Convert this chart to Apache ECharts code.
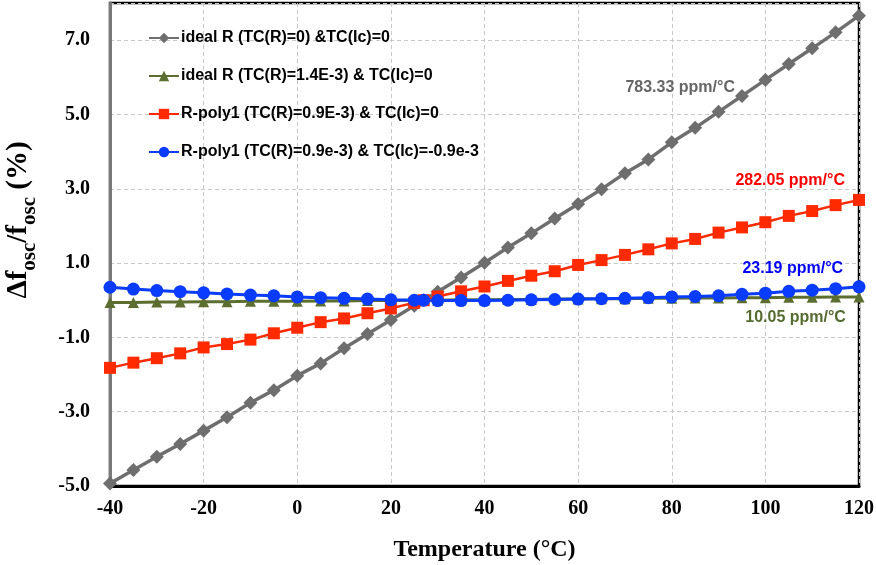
<!DOCTYPE html>
<html>
<head>
<meta charset="utf-8">
<script src="https://cdn.jsdelivr.net/npm/echarts@6/dist/echarts.min.js"></script>
<style>
  html, body { margin: 0; padding: 0; background: #fff; }
  #chart { width: 876px; height: 565px; }
</style>
</head>
<body>
<div id="chart"></div>
<script>
// Temperature sweep (°C); 27 °C is the reference point
const temperatures = [-40, -35, -30, -25, -20, -15, -10, -5, 0, 5, 10, 15, 20, 25, 27,
  30, 35, 40, 45, 50, 55, 60, 65, 70, 75, 80, 85, 90, 95, 100, 105, 110, 115, 120];

// Relative oscillation frequency drift (%)
const idealR0 = [-4.93, -4.57, -4.21, -3.87, -3.51, -3.15, -2.76, -2.42, -2.03, -1.70, -1.29, -0.91, -0.53, -0.15, 0.00,
  0.23, 0.61, 1.01, 1.42, 1.80, 2.20, 2.59, 2.99, 3.42, 3.79, 4.25, 4.64, 5.07, 5.50, 5.93, 6.36, 6.78, 7.21, 7.66];
const idealR14 = [-0.06, -0.06, -0.05, -0.05, -0.04, -0.04, -0.03, -0.03, -0.03, -0.02, -0.02, -0.01, -0.01, 0.00, 0.00,
  0.00, 0.01, 0.01, 0.02, 0.02, 0.03, 0.03, 0.04, 0.04, 0.05, 0.05, 0.06, 0.06, 0.07, 0.07, 0.08, 0.08, 0.09, 0.09];
const rPolyIc0 = [-1.82, -1.68, -1.56, -1.43, -1.27, -1.18, -1.06, -0.89, -0.74, -0.59, -0.49, -0.35, -0.22, -0.07, 0.00,
  0.10, 0.24, 0.37, 0.52, 0.66, 0.78, 0.95, 1.08, 1.22, 1.37, 1.53, 1.65, 1.82, 1.96, 2.10, 2.27, 2.40, 2.56, 2.70];
const rPolyIcNeg = [0.35, 0.30, 0.26, 0.23, 0.20, 0.17, 0.14, 0.12, 0.09, 0.07, 0.05, 0.03, 0.01, 0.00, 0.00,
  -0.01, -0.01, -0.01, 0.00, 0.01, 0.02, 0.03, 0.04, 0.05, 0.07, 0.09, 0.10, 0.12, 0.16, 0.19, 0.24, 0.27, 0.31, 0.36];

const seriesNames = [
  'ideal R (TC(R)=0) &TC(Ic)=0',
  'ideal R (TC(R)=1.4E-3) & TC(Ic)=0',
  'R-poly1 (TC(R)=0.9E-3) & TC(Ic)=0',
  'R-poly1 (TC(R)=0.9e-3) & TC(Ic)=-0.9e-3'
];
const slopeLabels = ['783.33 ppm/°C', '10.05 ppm/°C', '282.05 ppm/°C', '23.19 ppm/°C'];
// Where each slope label's right end sits, in axis units [°C, %]
const slopeLabelAt = [[93.5, 5.71], [117.2, -0.48], [117.0, 3.21], [116.6, 0.84]];

const xTicks = { min: -40, max: 120, step: 20 };
const yTicks = { min: -5, max: 8, step: 2 };

const colors = ['#6e6e6e', '#5b6e30', '#ff2a00', '#0a3cff'];
const textColors = ['#666666', '#556b2f', '#ff0000', '#0000ff'];
const symbols = ['diamond', 'triangle', 'rect', 'circle'];
const symbolSizes = [14, 11, 12, 13];
const lineWidths = [3.5, 3, 2.5, 3];
const values = [idealR0, idealR14, rPolyIc0, rPolyIcNeg];

const sans = '"Liberation Sans", Arial, sans-serif';
const serif = '"Liberation Serif", "Times New Roman", serif';

const chart = echarts.init(document.getElementById('chart'), null, { renderer: 'canvas' });

const series = values.map((vals, i) => ({
  name: seriesNames[i],
  type: 'line',
  data: temperatures.map((t, k) => [t, vals[k]]),
  symbol: symbols[i],
  symbolSize: symbolSizes[i],
  showAllSymbol: true,
  lineStyle: { color: colors[i], width: lineWidths[i] },
  itemStyle: { color: colors[i], borderWidth: 0 },
  clip: false,
  markPoint: {
    symbol: 'circle',
    symbolSize: 0,
    silent: true,
    label: {
      show: true,
      position: 'left',
      distance: 0,
      formatter: slopeLabels[i],
      color: textColors[i],
      fontFamily: sans,
      fontWeight: 'bold',
      fontSize: 16
    },
    data: [{ coord: slopeLabelAt[i] }]
  }
}));

chart.setOption({
  animation: false,
  backgroundColor: '#ffffff',
  grid: {
    left: 110, right: 17, top: 3, bottom: 79,
    outerBoundsMode: 'none',
    containLabel: false,
    show: true, borderColor: '#000', borderWidth: 2.5, backgroundColor: 'transparent'
  },
  legend: {
    orient: 'vertical',
    left: 143,
    top: 25,
    itemWidth: 30,
    itemHeight: 13,
    itemGap: 22,
    data: seriesNames,
    textStyle: { fontFamily: sans, fontWeight: 'bold', fontSize: 16, color: '#000', lineHeight: 16, padding: [0, 0, 0, -3] }
  },
  graphic: [{
    type: 'text',
    x: 22,
    y: 220,
    rotation: Math.PI / 2,
    silent: true,
    style: {
      text: '{m|Δf}{s|osc}{m|/f}{s|osc}{m| (%)}',
      align: 'center',
      verticalAlign: 'middle',
      rich: {
        m: { fontFamily: serif, fontWeight: 'bold', fontSize: 29, fill: '#000', color: '#000', verticalAlign: 'bottom', padding: [0, 0, 7, 0] },
        s: { fontFamily: serif, fontWeight: 'bold', fontSize: 21, fill: '#000', color: '#000', verticalAlign: 'bottom' }
      }
    }
  }],
  xAxis: {
    type: 'value',
    min: xTicks.min, max: xTicks.max, interval: xTicks.step,
    name: 'Temperature (°C)',
    nameLocation: 'middle',
    nameGap: 52,
    nameTextStyle: { fontFamily: serif, fontWeight: 'bold', fontSize: 24, color: '#000' },
    axisLine: { show: true, onZero: false, lineStyle: { color: '#000', width: 3 } },
    axisTick: { show: false },
    axisLabel: { margin: 13, fontFamily: serif, fontWeight: 'bold', fontSize: 20, color: '#000' },
    splitLine: { show: true, lineStyle: { color: '#c8c8c8', type: [4, 3], width: 1 } }
  },
  yAxis: {
    type: 'value',
    min: yTicks.min, max: yTicks.max, interval: yTicks.step,
    axisLine: { show: true, onZero: false, lineStyle: { color: '#7a7a7a', width: 3 } },
    axisTick: { show: false },
    axisLabel: {
      margin: 20, showMaxLabel: false,
      fontFamily: serif, fontWeight: 'bold', fontSize: 20, color: '#000',
      formatter: v => v.toFixed(1)
    },
    splitLine: { show: true, lineStyle: { color: '#c8c8c8', type: [4, 3], width: 1 } }
  },
  series: series
});
</script>
</body>
</html>
